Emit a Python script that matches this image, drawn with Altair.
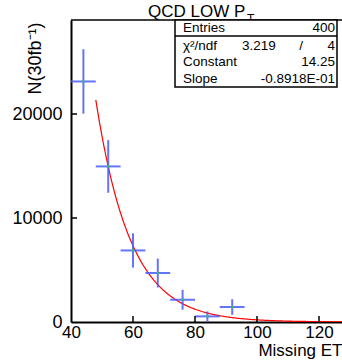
import altair as alt
import pandas as pd

# ---- data ----
et_center = [44, 52, 60, 68, 76, 84, 92]
counts = [23130, 14960, 6880, 4710, 2140, 540, 1440]
errors = [3100, 2530, 1650, 1390, 960, 480, 750]
bin_half = 4

fit_const = 14.25
fit_slope = -0.08918
fit_start = 48
fit_stop = 128

x_ticks = [40, 60, 80, 100, 120]
y_ticks = [0, 10000, 20000]

title_main = "QCD LOW P"
title_sub = "T"
x_title = "Missing ET"
y_title = "N(30fb\u207b\u00b9)"

stat_labels = ["Entries", "\u03c7\u00b2/ndf", "Constant", "Slope"]
stat_values = ["400", "3.219", "14.25", "-0.8918E-01"]
chi2_ndf = "4"

W, H = 271, 302
FONT = "Liberation Sans"
SF = 13.5

df = pd.DataFrame({"et": et_center, "n": counts, "err": errors})

xs = alt.Scale(domain=[40, 127.42], nice=False, zero=False)
ys = alt.Scale(domain=[0, 29040], nice=False)

xax = alt.Axis(values=x_ticks, title=x_title, grid=False, ticks=False, tickSize=0, format="d",
               domainColor="black", domainWidth=2, labelFont=FONT, labelFontSize=17,
               labelColor="black", labelPadding=2, labelFlush=False,
               titleFont=FONT, titleFontSize=17, titleFontWeight="normal", titleColor="black",
               titleAnchor="end", titleAlign="right", titleBaseline="alphabetic",
               titleX=W, titleY=33)
yax = alt.Axis(values=y_ticks, title=y_title, grid=False, ticks=False, tickSize=0, format="d",
               domainColor="black", domainWidth=2, labelFont=FONT, labelFontSize=18,
               labelColor="black", labelPadding=9, labelFlush=False,
               titleFont=FONT, titleFontSize=18, titleFontWeight="normal", titleColor="black",
               titleAlign="right", titleBaseline="alphabetic", titleAngle=270,
               titleX=-31, titleY=2)

base = alt.Chart(df)

# invisible layer carrying the axes
axes = base.mark_point(opacity=0).encode(
    x=alt.X("et:Q", scale=xs, axis=xax),
    y=alt.Y("n:Q", scale=ys, axis=yax),
)

blue = "#4a5cff"
vbars = base.transform_calculate(lo="datum.n - datum.err", hi="datum.n + datum.err").mark_rule(
    color=blue, strokeWidth=2, opacity=0.85
).encode(x="et:Q", y="lo:Q", y2="hi:Q")

hbars = base.transform_calculate(l="datum.et - %d" % bin_half, r="datum.et + %d" % bin_half).mark_rule(
    color=blue, strokeWidth=2, opacity=0.85
).encode(x="l:Q", x2="r:Q", y="n:Q")

dots = base.mark_point(filled=True, size=5, color="#22dd22", opacity=1).encode(x="et:Q", y="n:Q")

fit = alt.Chart(alt.sequence(fit_start, fit_stop, 0.25, as_="x")).transform_calculate(
    y="exp(%f + (%f) * datum.x)" % (fit_const, fit_slope)
).mark_line(color="red", strokeWidth=1.2, clip=True).encode(
    x=alt.X("x:Q", scale=xs), y=alt.Y("y:Q", scale=ys)
)

# inward ticks
yt = alt.Chart(pd.DataFrame({"v": y_ticks[1:]})).mark_rule(color="black", strokeWidth=1.5).encode(
    y=alt.Y("v:Q", scale=ys), x=alt.value(0), x2=alt.value(6))
xt = alt.Chart(pd.DataFrame({"v": x_ticks[1:]})).mark_rule(color="black", strokeWidth=1.5).encode(
    x=alt.X("v:Q", scale=xs), y=alt.value(H), y2=alt.value(H - 6))

one = alt.Chart(pd.DataFrame({"k": [0]}))
top_frame = one.mark_rule(color="black", strokeWidth=1.5).encode(
    x=alt.value(0), x2=alt.value(W), y=alt.value(0))

t1 = one.mark_text(text=title_main, font=FONT, fontSize=17, align="left", baseline="alphabetic",
                   color="black").encode(x=alt.value(77), y=alt.value(-3))
t2 = one.mark_text(text=title_sub, font=FONT, fontSize=12, align="left", baseline="alphabetic",
                   color="black").encode(x=alt.value(176), y=alt.value(3))

box = one.mark_rect(fill="white", stroke="black", strokeWidth=1.5).encode(
    x=alt.value(104), x2=alt.value(266), y=alt.value(0), y2=alt.value(67))
sep = one.mark_rule(color="black", strokeWidth=1.5).encode(
    x=alt.value(104), x2=alt.value(266), y=alt.value(16))

row_y = [8, 26, 42, 59]
stat_layers = []
for lab, yy in zip(stat_labels, row_y):
    stat_layers.append(one.mark_text(text=lab, font=FONT, fontSize=SF, align="left",
                                     baseline="middle", color="black").encode(
        x=alt.value(112), y=alt.value(yy)))
for i, (val, yy) in enumerate(zip(stat_values, row_y)):
    if i == 1:
        stat_layers.append(one.mark_text(text=val, font=FONT, fontSize=SF, align="left",
                                         baseline="middle", color="black").encode(
            x=alt.value(171), y=alt.value(yy)))
        stat_layers.append(one.mark_text(text="/", font=FONT, fontSize=SF, align="center",
                                         baseline="middle", color="black").encode(
            x=alt.value(230), y=alt.value(yy)))
        stat_layers.append(one.mark_text(text=chi2_ndf, font=FONT, fontSize=SF, align="right",
                                         baseline="middle", color="black").encode(
            x=alt.value(264), y=alt.value(yy)))
    else:
        stat_layers.append(one.mark_text(text=val, font=FONT, fontSize=SF, align="right",
                                         baseline="middle", color="black").encode(
            x=alt.value(264), y=alt.value(yy)))

chart = alt.layer(axes, fit, vbars, hbars, dots, yt, xt, top_frame, t1, t2, box, sep,
                  *stat_layers).properties(
    width=W, height=H,
    autosize=alt.AutoSizeParams(type="none"),
    padding={"left": 71, "top": 20, "right": 0, "bottom": 38},
    background="white",
).configure_view(stroke=None)

chart.save("out.html", embed_options={"renderer": "svg", "actions": False})
